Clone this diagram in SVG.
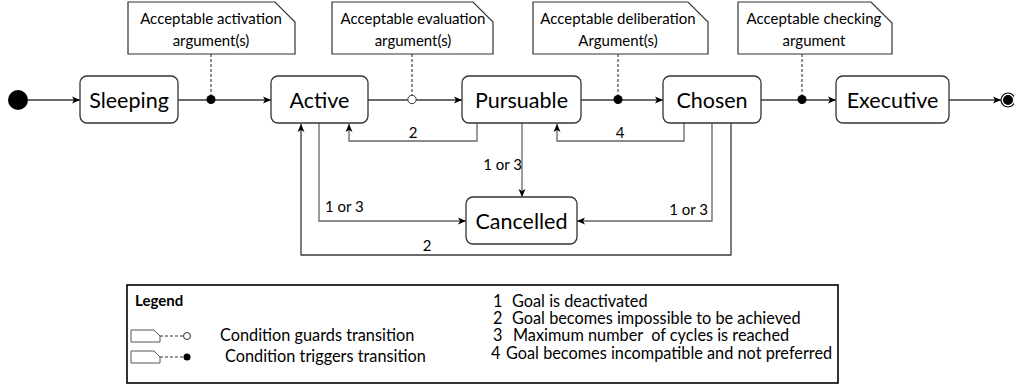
<svg xmlns="http://www.w3.org/2000/svg" width="1014" height="390" viewBox="0 0 1014 390">
<style>
text{font-family:Lato,"Liberation Sans",sans-serif;fill:#000}
.st{fill:#fff;stroke:#333;stroke-width:1.3}
.lbl{font-size:21.5px;text-anchor:middle;dominant-baseline:central}
.note{fill:#fff;stroke:#333;stroke-width:1.2}
.nt{font-size:15px;text-anchor:middle}
.ln{fill:none;stroke:#3a3a3a;stroke-width:1.3}
.lg{fill:none;stroke:#666;stroke-width:1.3}
.ds{fill:none;stroke:#333;stroke-width:1.1;stroke-dasharray:3,2}
.el{font-size:16.3px}
.lt{font-size:15px}
</style>
<defs>
<marker id="ar" markerUnits="userSpaceOnUse" markerWidth="10" markerHeight="10" viewBox="0 0 10 10" refX="9" refY="5" orient="auto">
<path d="M1,1.5 L9,5 L1,8.5 L3,5 Z" fill="#000"/>
</marker>
</defs>
<g id="notes">
<g id="note1"><path class="note" d="M128,2 H275 L295,22 V54 H128 Z"/><text class="nt" x="211" y="24">Acceptable activation</text><text class="nt" x="211" y="46">argument(s)</text></g>
<g id="note2"><path class="note" d="M332,2 H473 L493,22 V54 H332 Z"/><text class="nt" x="413" y="24">Acceptable evaluation</text><text class="nt" x="413" y="46">argument(s)</text></g>
<g id="note3"><path class="note" d="M533,2 H688 L708,22 V54 H533 Z"/><text class="nt" x="618" y="24">Acceptable deliberation</text><text class="nt" x="618" y="46">Argument(s)</text></g>
<g id="note4"><path class="note" d="M738,2 H871 L892,23 V54 H738 Z"/><text class="nt" x="814" y="24">Acceptable checking</text><text class="nt" x="814" y="46">argument</text></g>
</g>
<g id="connectors">
<line class="ln" x1="28" y1="100" x2="80" y2="100" marker-end="url(#ar)"/>
<line class="ln" x1="178" y1="100" x2="271" y2="100" marker-end="url(#ar)"/>
<line class="ln" x1="368" y1="100" x2="462" y2="100" marker-end="url(#ar)"/>
<line class="ln" x1="581" y1="100" x2="663" y2="100" marker-end="url(#ar)"/>
<line class="ln" x1="761" y1="100" x2="836" y2="100" marker-end="url(#ar)"/>
<line class="ln" x1="949" y1="100" x2="1001" y2="100" marker-end="url(#ar)"/>
<line class="ds" x1="211" y1="54" x2="211" y2="99"/>
<line class="ds" x1="412" y1="54" x2="412" y2="95"/>
<line class="ds" x1="618" y1="54" x2="618" y2="99"/>
<line class="ds" x1="802" y1="54" x2="802" y2="99"/>
<circle cx="211" cy="99.5" r="4.5" fill="#000"/>
<circle cx="412" cy="99.5" r="4.2" fill="#fff" stroke="#333" stroke-width="1"/>
<circle cx="618" cy="99.5" r="4.5" fill="#000"/>
<circle cx="802" cy="99.5" r="4.5" fill="#000"/>
<polyline class="lg" points="477,123 477,141 349,141 349,124" marker-end="url(#ar)"/>
<polyline class="lg" points="684,123 684,141 557,141 557,124" marker-end="url(#ar)"/>
<polyline class="lg" points="522,123 522,197" marker-end="url(#ar)"/>
<polyline class="lg" points="319,123 319,221 466,221" marker-end="url(#ar)"/>
<polyline class="lg" points="712,123 712,221 577,221" marker-end="url(#ar)"/>
<polyline class="ln" points="731,123 731,255 301,255 301,124" marker-end="url(#ar)"/>
<text class="lt" x="413" y="138" text-anchor="middle">2</text>
<text class="lt" x="620" y="138" text-anchor="middle">4</text>
<text class="lt" x="522" y="170" text-anchor="end">1 or 3</text>
<text class="lt" x="325" y="212">1 or 3</text>
<text class="lt" x="708" y="215" text-anchor="end">1 or 3</text>
<text class="lt" x="427" y="251" text-anchor="middle">2</text>
</g>
<g id="initial"><circle cx="18" cy="100" r="10" fill="#000"/></g>
<g id="sleeping"><rect class="st" x="80" y="76" width="98" height="47" rx="7"/><text class="lbl" x="129" y="99.5">Sleeping</text></g>
<g id="active"><rect class="st" x="271" y="76" width="97" height="47" rx="7"/><text class="lbl" x="319.5" y="99.5">Active</text></g>
<g id="pursuable"><rect class="st" x="462" y="76" width="119" height="47" rx="7"/><text class="lbl" x="521.5" y="99.5">Pursuable</text></g>
<g id="chosen"><rect class="st" x="663" y="76" width="98" height="47" rx="7"/><text class="lbl" x="712" y="99.5">Chosen</text></g>
<g id="executive"><rect class="st" x="836" y="76" width="113" height="47" rx="7"/><text class="lbl" x="892.5" y="99.5">Executive</text></g>
<g id="cancelled"><rect class="st" x="466" y="197" width="111" height="47" rx="7"/><text class="lbl" x="521.5" y="220.5">Cancelled</text></g>
<g id="final"><circle cx="1008" cy="100" r="7" fill="#fff" stroke="#000" stroke-width="1.2"/><circle cx="1008" cy="100" r="5" fill="#000"/></g>
<g id="legend">
<rect x="127" y="285" width="711" height="98" fill="#fff" stroke="#000" stroke-width="1.6"/>
<text x="135" y="306" font-size="15" font-weight="bold">Legend</text>
<path d="M131,330 H154 L160,336 V342 H131 Z" fill="#fff" stroke="#555" stroke-width="1"/>
<line class="ds" x1="160" y1="336" x2="183" y2="336" stroke="#555"/>
<circle cx="187" cy="336" r="3.5" fill="#fff" stroke="#333" stroke-width="1"/>
<path d="M131,351 H154 L160,357 V363 H131 Z" fill="#fff" stroke="#555" stroke-width="1"/>
<line class="ds" x1="160" y1="357" x2="183" y2="357" stroke="#555"/>
<circle cx="187" cy="357" r="3.5" fill="#000"/>
<text class="el" x="220" y="341">Condition guards transition</text>
<text class="el" x="225" y="362">Condition triggers transition</text>
<text class="el" x="493" y="307">1</text><text class="el" x="512" y="307">Goal is deactivated</text>
<text class="el" x="493" y="324">2</text><text class="el" x="512" y="324">Goal becomes impossible to be achieved</text>
<text class="el" x="493" y="341">3</text><text class="el" x="513" y="341" xml:space="preserve">Maximum number  of cycles is reached</text>
<text class="el" x="491" y="359">4</text><text class="el" x="506" y="359">Goal becomes incompatible and not preferred</text>
</g>
</svg>
